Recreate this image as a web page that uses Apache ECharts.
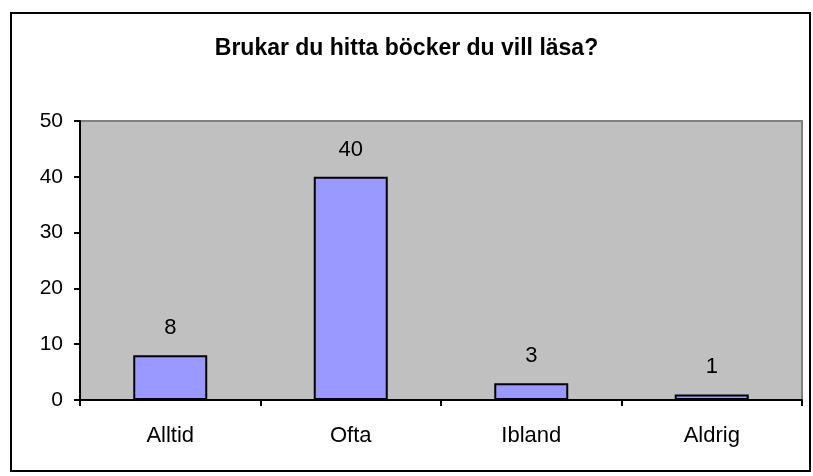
<!DOCTYPE html>
<html>
<head>
<meta charset="utf-8">
<title>Brukar du hitta böcker du vill läsa?</title>
<script src="https://cdn.jsdelivr.net/npm/echarts@6/dist/echarts.min.js"></script>
<style>
  html, body { margin: 0; padding: 0; background: #fff; }
  #main { width: 813px; height: 476px; }
</style>
</head>
<body>
<div id="main"></div>
<script type="text/javascript">
    // data
    var categories = ['Alltid', 'Ofta', 'Ibland', 'Aldrig'];
    var answers = [8, 40, 3, 1];
    var yTicks = [0, 10, 20, 30, 40, 50];

    var font = '"Liberation Sans", Arial, sans-serif';
    var chart = echarts.init(document.getElementById('main'));

    chart.setOption({
        backgroundColor: '#ffffff',
        animation: false,
        title: {
            text: 'Brukar du hitta böcker du vill läsa?',
            left: 'center',
            top: 32,
            textStyle: { fontFamily: font, fontSize: 23, fontWeight: 'bold', color: '#000' }
        },
        graphic: [{
            type: 'rect',
            shape: { x: 11, y: 13, width: 799, height: 458 },
            style: { fill: 'none', stroke: '#000', lineWidth: 2 },
            z: 100
        }],
        grid: {
            left: 80, right: 11, top: 121, bottom: 76,
            show: true,
            backgroundColor: '#C0C0C0',
            borderColor: '#808080',
            borderWidth: 2
        },
        xAxis: {
            type: 'category',
            data: categories,
            axisLine: { lineStyle: { color: '#000', width: 2 } },
            axisTick: { show: true, alignWithLabel: false, length: 6, lineStyle: { color: '#000', width: 2 } },
            axisLabel: { margin: 25, fontFamily: font, fontSize: 22, color: '#000' }
        },
        yAxis: {
            type: 'value',
            min: yTicks[0],
            max: yTicks[yTicks.length - 1],
            interval: yTicks[1] - yTicks[0],
            axisLine: { show: true, lineStyle: { color: '#000', width: 2 } },
            axisTick: { show: true, length: 6, lineStyle: { color: '#000', width: 2 } },
            splitLine: { show: false },
            axisLabel: { margin: 17, fontFamily: font, fontSize: 21, color: '#000' }
        },
        series: [{
            type: 'bar',
            data: answers,
            barWidth: '41%',
            itemStyle: { color: '#9999FF', borderColor: '#000', borderWidth: 2 },
            label: {
                show: true,
                position: 'top',
                distance: 16,
                fontFamily: font,
                fontSize: 22,
                color: '#000'
            }
        }]
    });
</script>
</body>
</html>
